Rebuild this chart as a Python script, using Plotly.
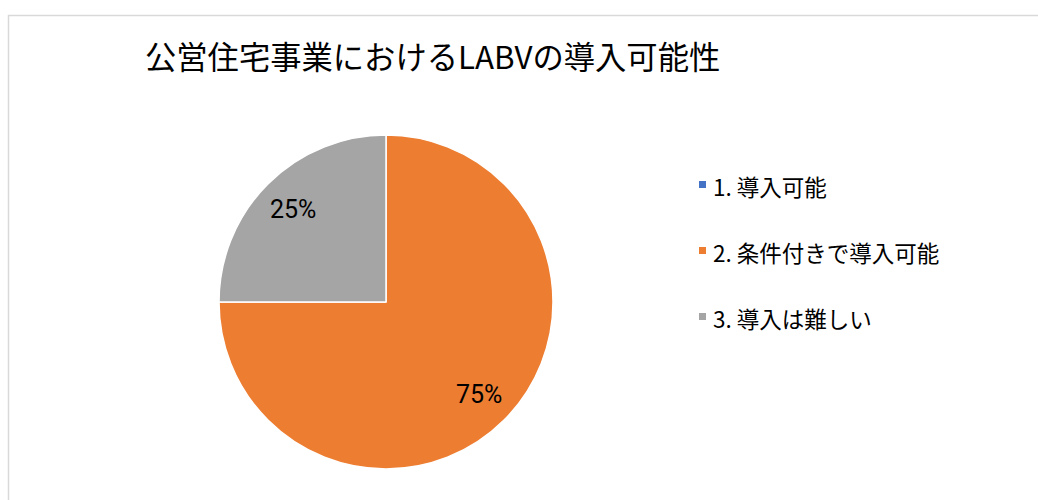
import math
import plotly.graph_objects as go

# Survey answers and their shares (percent)
categories = ["1. 導入可能", "2. 条件付きで導入可能", "3. 導入は難しい"]
shares = [0, 75, 25]
colors = ["#4472C4", "#ED7D31", "#A5A5A5"]
title_text = "公営住宅事業におけるLABVの導入可能性"

W, H = 1038, 500
FONT = "Noto Sans CJK JP, sans-serif"
NUM_FONT = "Roboto, Noto Sans CJK JP, sans-serif"

# pie placement in pixels (left, right, top, bottom)
px_l, px_r, px_t, px_b = 219, 553, 135, 469
dom_x = [px_l / W, px_r / W]
dom_y = [1 - px_b / H, 1 - px_t / H]

fig = go.Figure(
    go.Pie(
        labels=categories,
        values=shares,
        marker=dict(colors=colors, line=dict(color="#FFFFFF", width=1.5)),
        sort=False,
        direction="clockwise",
        rotation=0,
        textinfo="none",
        hoverinfo="label+percent",
        showlegend=False,
        domain=dict(x=dom_x, y=dom_y),
    )
)

# percentage labels placed at a fixed fraction of the radius, mid-slice
total = sum(shares)
cx = (dom_x[0] + dom_x[1]) / 2
cy = (dom_y[0] + dom_y[1]) / 2
radius_px = (px_r - px_l) / 2
label_r = 0.785 * radius_px
cum = 0.0
annotations = []
for v in shares:
    if v > 0:
        mid = (cum + v / 2) / total * 2 * math.pi
        ax = cx + label_r * math.sin(mid) / W
        ay = cy + label_r * math.cos(mid) / H
        annotations.append(
            dict(
                x=ax, y=ay, xref="paper", yref="paper",
                text=f"{round(v / total * 100)}%",
                showarrow=False,
                font=dict(family=NUM_FONT, size=25, color="#000000"),
                xanchor="center", yanchor="middle",
            )
        )
    cum += v

# legend drawn as small swatches with labels
shapes = []
leg_x = 702.5
leg_y0 = 184.5
leg_step = 66
sw = 3.5
for i, (lab, col) in enumerate(zip(categories, colors)):
    yc = leg_y0 + i * leg_step
    shapes.append(
        dict(
            type="rect", xref="paper", yref="paper",
            x0=(leg_x - sw) / W, x1=(leg_x + sw) / W,
            y0=1 - (yc + sw) / H, y1=1 - (yc - sw) / H,
            fillcolor=col, line=dict(width=0),
        )
    )
    annotations.append(
        dict(
            x=711 / W, y=1 - (yc + 1) / H, xref="paper", yref="paper",
            text=lab, showarrow=False,
            font=dict(family=FONT, size=22.5, color="#000000"),
            xanchor="left", yanchor="middle",
        )
    )

# chart frame
shapes.append(
    dict(
        type="rect", xref="paper", yref="paper",
        x0=8.5 / W, x1=1.02, y0=-0.02, y1=1 - 15.5 / H,
        line=dict(color="#D9D9D9", width=1.5),
        fillcolor="rgba(0,0,0,0)",
        layer="below",
    )
)

fig.update_layout(
    width=W,
    height=H,
    margin=dict(l=0, r=0, t=0, b=0),
    paper_bgcolor="#FFFFFF",
    plot_bgcolor="#FFFFFF",
    title=dict(
        text=title_text,
        x=145 / W, xanchor="left", xref="paper",
        y=1 - 58 / H, yanchor="middle", yref="paper",
        font=dict(family=FONT, size=31.3, color="#000000"),
    ),
    annotations=annotations,
    shapes=shapes,
)

fig.write_html("out.html")
